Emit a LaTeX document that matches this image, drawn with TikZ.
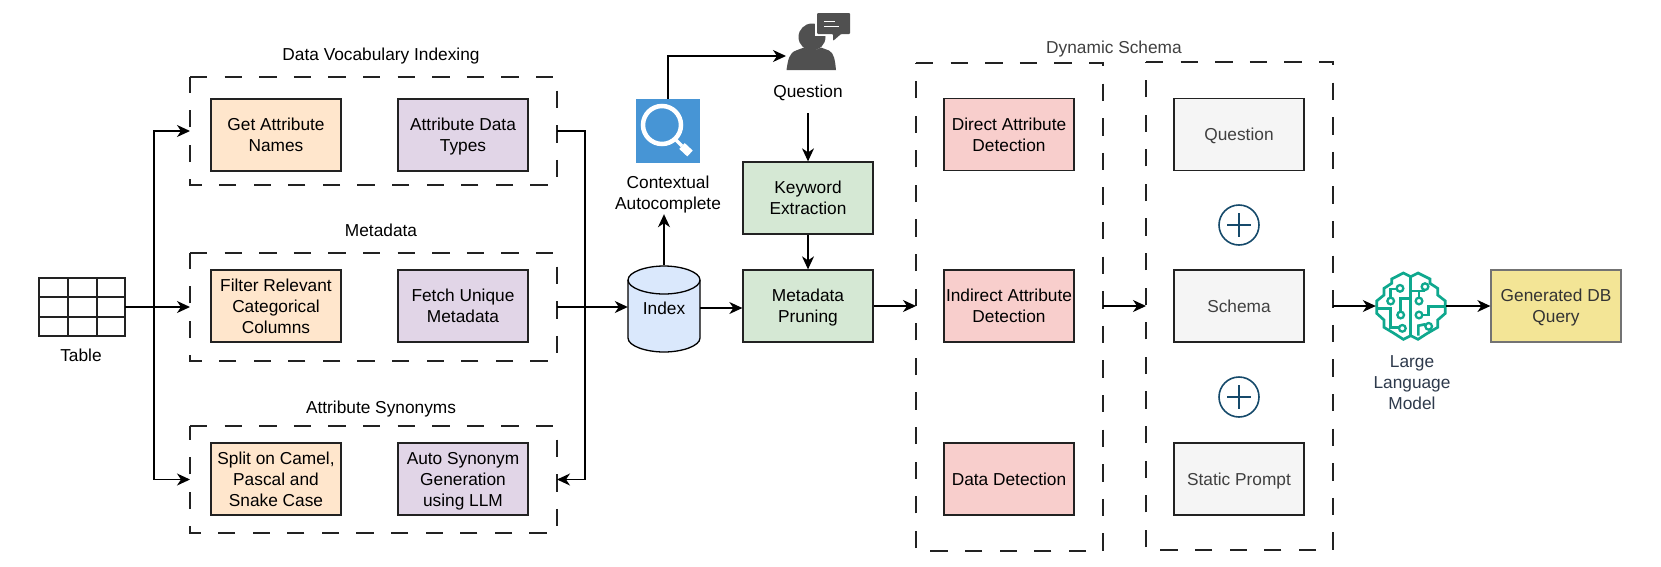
\documentclass[tikz,border=0pt]{standalone}
\usepackage{fontspec}
\setmainfont{Liberation Sans}
\usetikzlibrary{arrows.meta}
\definecolor{cOrange}{HTML}{FFE6CC}
\definecolor{cPurple}{HTML}{E1D5E7}
\definecolor{cRed}{HTML}{F8CECC}
\definecolor{cGreen}{HTML}{D5E8D4}
\definecolor{cBlue}{HTML}{DAE8FC}
\definecolor{cGrey}{HTML}{F5F5F5}
\definecolor{cYellow}{HTML}{F3E596}
\definecolor{cTeal}{HTML}{0FA88E}
\definecolor{cPlus}{HTML}{164A6B}
\definecolor{cIcon}{HTML}{505050}
\definecolor{cSearch}{HTML}{4795D5}
\definecolor{cInk}{HTML}{222222}
\definecolor{cLab}{HTML}{2E3A4C}
\newcommand{\T}[1]{\raisebox{-2.2pt}[\height][\depth]{\begin{tabular}{@{}c@{}}#1\end{tabular}}}
\tikzset{
  txt/.style={font=\fontsize{17.3}{21}\selectfont,inner sep=0pt,text=black},
  boxA/.style={txt,draw=cInk,line width=1.3pt,minimum width=130pt,minimum height=72pt},
  greybox/.style={boxA,fill=cGrey,text=black!75},
  dashbox/.style={inner sep=0pt,outer sep=0pt},
  dashline/.style={draw=cInk,line width=1.3pt,dash pattern=on 17.3pt off 17.3pt},
  conn/.style={draw=black,line width=1.3pt,-{Stealth[length=13pt,width=12pt,inset=4pt]}},
  plusc/.style={circle,draw=cPlus,line width=1.6pt,minimum size=40pt,inner sep=0pt},
  plusl/.style={draw=cPlus,line width=1.8pt},
  brainl/.style={draw=cTeal,line width=2.7pt,line join=miter},
  brainc/.style={draw=cTeal,line width=2.3pt}
}
\newcommand{\dashrect}[5]{%
  \node[dashbox,minimum width=#4-#2,minimum height=#5-#3] (#1) at ({(#2+#4)/2},{(#3+#5)/2}) {};
  \draw[dashline] (#1.north west) -- (#1.north east) -- (#1.south east) -- (#1.south west) -- cycle;
}
\begin{document}
\begin{tikzpicture}[x=1pt,y=-1pt]
\fill[white] (0,0) rectangle (1661,566);
\useasboundingbox (0,0) rectangle (1661,566);

% table
\node[inner sep=0pt,minimum width=86pt,minimum height=58pt] (tbl) at (82,307) {};
\draw[draw=cInk,line width=1.3pt] (39,278) rectangle (125,336)
  (39,297) -- (125,297) (39,317) -- (125,317) (68,278) -- (68,336) (97,278) -- (97,336);
\node[txt] (tbllab) at (81,355.5) {\T{Table}};

% left groups
\dashrect{dv}{190}{77}{557}{185}
\dashrect{md}{190}{253}{557}{361}
\dashrect{syn}{190}{426}{557}{533}
\node[txt] (tdv) at (381,54.5) {\T{Data Vocabulary Indexing}};
\node[txt] (tmd) at (381,230.5) {\T{Metadata}};
\node[txt] (tsyn) at (381,407) {\T{Attribute Synonyms}};

\node[boxA,fill=cOrange] (a1) at (276,135) {\T{Get Attribute\\Names}};
\node[boxA,fill=cPurple] (a2) at (463,135) {\T{Attribute Data\\Types}};
\node[boxA,fill=cOrange] (b1) at (276,306) {\T{Filter Relevant\\Categorical\\Columns}};
\node[boxA,fill=cPurple] (b2) at (463,306) {\T{Fetch Unique\\Metadata}};
\node[boxA,fill=cOrange] (c1) at (276,479) {\T{Split on Camel,\\Pascal and\\Snake Case}};
\node[boxA,fill=cPurple] (c2) at (463,479) {\T{Auto Synonym\\Generation\\using LLM}};

% index
\draw[draw=black,line width=1.3pt,fill=cBlue]
  (628,280) -- (628,338) .. controls (628,346) and (646,352) .. (664,352)
  .. controls (682,352) and (700,346) .. (700,338) -- (700,280)
  .. controls (700,272) and (682,266) .. (664,266)
  .. controls (646,266) and (628,272) .. (628,280) -- cycle;
\draw[draw=black,line width=1.3pt] (628,280) .. controls (628,288) and (646,294) .. (664,294)
  .. controls (682,294) and (700,288) .. (700,280);
\node[txt,minimum width=72pt,minimum height=86pt] (idx) at (664,308) {\T{Index}};

% search icon
\node[fill=cSearch,minimum size=64pt,inner sep=0pt] (srch) at (668,131) {};
\draw[white,line width=4.5pt] (662,125) circle (19);
\draw[white,line width=3.5pt] (675,139) -- (682,146);
\draw[white,line width=8pt] (682,146) -- (690,153.5);
\node[txt,minimum height=42pt] (ctx) at (668,193) {\T{Contextual\\Autocomplete}};

% person
\node[inner sep=0pt,minimum width=64pt,minimum height=57pt] (person) at (818,41.5) {};
\coordinate (pin) at (786,56);
\fill[cIcon] (812,37) circle (13.5);
\fill[cIcon] (786.5,70) .. controls (788,60) and (789,53) .. (796,50.5) -- (804,47.5)
  .. controls (809,51) and (816,51) .. (821,47.5) -- (829,50.5)
  .. controls (834,53) and (835,60) .. (836,70) -- cycle;
\fill[white] (815,11) rectangle (852,36);
\fill[cIcon,rounded corners=1pt] (817,13) -- (850,13) -- (850,34) -- (841,34) -- (833,41) -- (833,34) -- (817,34) -- cycle;
\draw[white,line width=1.3pt] (824,21.5) -- (835,21.5) (824,26.5) -- (839,26.5);
\node[txt,minimum height=44pt] (qlab) at (808,91) {\T{Question}};

% middle
\node[boxA,fill=cGreen] (kw) at (808,198) {\T{Keyword\\Extraction}};
\node[boxA,fill=cGreen] (prune) at (808,306) {\T{Metadata\\Pruning}};

% dynamic schema
\node[txt,text=black!75] (tds) at (1114,47) {\T{Dynamic Schema}};
\dashrect{da}{916}{63}{1103}{551}
\dashrect{db}{1146}{62}{1333}{550}
\node[boxA,fill=cRed] (r1) at (1009,134.5) {\T{Direct Attribute\\Detection}};
\node[boxA,fill=cRed] (r2) at (1009,306) {\T{Indirect Attribute\\Detection}};
\node[boxA,fill=cRed] (r3) at (1009,479) {\T{Data Detection}};
\node[greybox] (g1) at (1239,134.5) {\T{Question}};
\node[greybox] (g2) at (1239,306) {\T{Schema}};
\node[greybox] (g3) at (1239,479) {\T{Static Prompt}};
\node[plusc] (p1) at (1239,225) {};
\node[plusc] (p2) at (1239,397) {};
\draw[plusl] (1227,225) -- (1251,225) (1239,213) -- (1239,237);
\draw[plusl] (1227,397) -- (1251,397) (1239,385) -- (1239,409);

% brain
\node[inner sep=0pt,minimum width=70pt,minimum height=70pt] (llm) at (1411,306) {};
\begin{scope}[shift={(1370,265)},x=0.3333pt,y=-0.3333pt]
  \draw[brainl] (122,35) -- (100,24) -- (65,42) -- (65,55) -- (42,70) -- (42,90) -- (20,108) -- (20,145)
    -- (42,165) -- (42,187) -- (72,205) -- (100,223) -- (122,212) -- (144,223) -- (172,205) -- (203,187)
    -- (203,165) -- (226,145) -- (226,108) -- (203,90) -- (203,70) -- (180,55) -- (180,42) -- (144,24) -- cycle;
  \draw[brainl] (122,35) -- (122,212);
  \draw[brainl] (80,72) -- (62,72) -- (62,98);
  \draw[brainc] (90,70) circle (10) (62,108) circle (10);
  \draw[brainl] (122,100) -- (92,100) -- (92,140);
  \draw[brainc] (92,150) circle (10);
  \draw[brainl] (20,130) -- (62,130) -- (62,187) -- (86,187);
  \draw[brainc] (97,190) circle (10);
  \draw[brainl] (122,78) -- (165,78);
  \draw[brainc] (165,65) circle (10);
  \draw[brainl] (147,78) -- (147,98);
  \draw[brainc] (147,108) circle (10);
  \draw[brainl] (158,150) -- (175,150) -- (175,125) -- (226,125);
  \draw[brainc] (147,150) circle (10);
  \draw[brainl] (145,212) -- (145,182) -- (165,178);
  \draw[brainc] (176,184) circle (10);
\end{scope}
\node[txt,text=cLab] (llmlab) at (1412,382) {\T{Large\\Language\\Model}};
\node[boxA,draw=black!55,fill=cYellow,text=black!80] (gen) at (1556,306) {\T{Generated DB\\Query}};

% connectors
\coordinate (jt) at (154,307);
\coordinate (bus) at (585,307);
\draw[conn] (tbl.east) -- (md.west);
\draw[conn] (jt) |- (dv.west);
\draw[conn] (jt) |- (syn.west);
\draw[conn] (dv.east) -| (bus) |- (syn.east);
\draw[conn] (md.east) -- (idx.west |- md.east);
\draw[conn] (idx.north) -- (idx.north |- ctx.south);
\draw[conn] (srch.north) |- (pin);
\draw[conn] (qlab.south) -- (kw.north);
\draw[conn] (kw.south) -- (prune.north);
\draw[conn] (idx.east) -- (prune.west |- idx.east);
\draw[conn] (prune.east) -- (da.west |- prune.east);
\draw[conn] (da.east |- db.west) -- (db.west);
\draw[conn] (db.east) -- (llm.west);
\draw[conn] (llm.east) -- (gen.west);
\end{tikzpicture}
\end{document}
